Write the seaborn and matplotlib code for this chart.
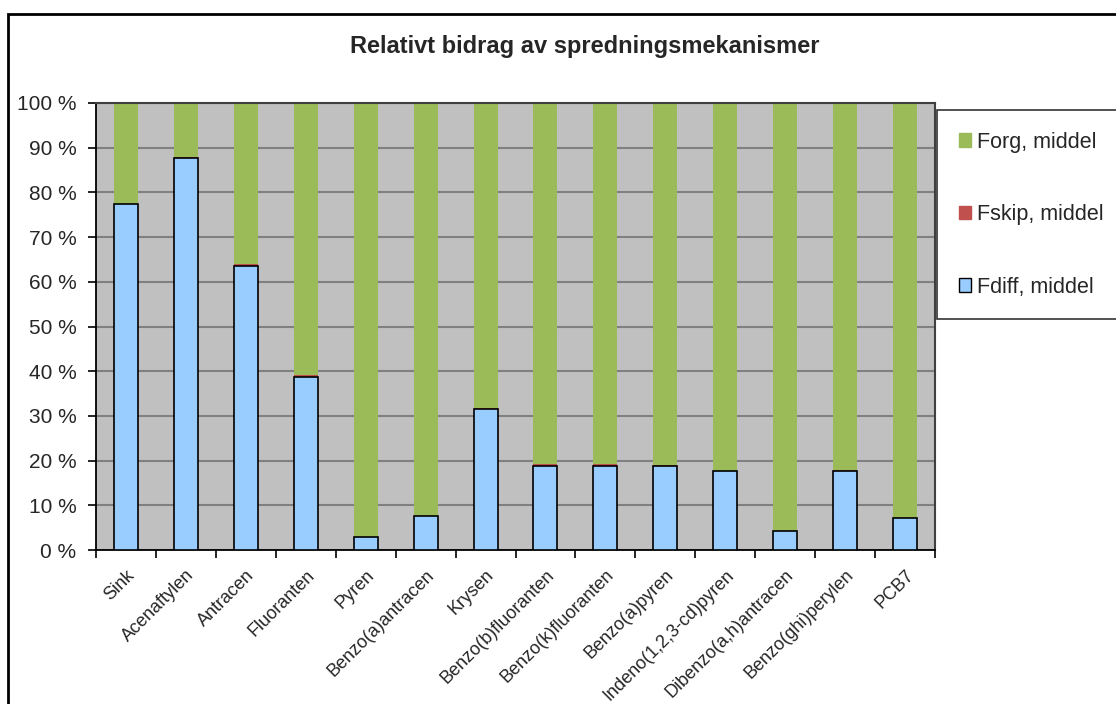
import numpy as np
import pandas as pd
import seaborn as sns
from matplotlib import pyplot as plt
from matplotlib.patches import Rectangle, Patch
from matplotlib.ticker import FuncFormatter

compounds = ["Sink", "Acenaftylen", "Antracen", "Fluoranten", "Pyren",
             "Benzo(a)antracen", "Krysen", "Benzo(b)fluoranten",
             "Benzo(k)fluoranten", "Benzo(a)pyren", "Indeno(1,2,3-cd)pyren",
             "Dibenzo(a,h)antracen", "Benzo(ghi)perylen", "PCB7"]
fdiff = [77.4, 87.8, 63.6, 38.8, 3.0, 7.5, 31.5, 18.9, 18.9, 18.8, 17.7, 4.3, 17.7, 7.1]
fskip = [0.05, 0.2, 0.3, 0.3, 0.0, 0.05, 0.2, 0.4, 0.4, 0.2, 0.05, 0.0, 0.3, 0.0]
forg = [100 - d - s for d, s in zip(fdiff, fskip)]

df = pd.DataFrame({"compound": compounds, "fdiff": fdiff, "fskip": fskip, "forg": forg})
df["top_skip"] = df["fdiff"] + df["fskip"]
df["top_org"] = df["top_skip"] + df["forg"]

c_org, c_skip, c_diff = "#9BBB59", "#C0504D", "#99CCFF"

sns.set_style("white")
plt.rcParams['font.family'] = ['Liberation Sans', 'DejaVu Sans']

fig = plt.figure(figsize=(11.16, 7.04), dpi=100)
ax = fig.add_axes([96 / 1116, 1 - 550 / 704, (935 - 96) / 1116, (550 - 103) / 704])
ax.set_facecolor("#C0C0C0")

# stacked via layered cumulative totals
sns.barplot(data=df, x="compound", y="top_org", color=c_org, width=0.4,
            saturation=1, linewidth=0, ax=ax, zorder=2)
sns.barplot(data=df, x="compound", y="top_skip", color=c_skip, width=0.4,
            saturation=1, linewidth=0, ax=ax, zorder=3)
sns.barplot(data=df, x="compound", y="fdiff", color=c_diff, width=0.4,
            saturation=1, edgecolor="black", linewidth=1.2, ax=ax, zorder=4)

ax.set_ylim(0, 100)
ax.set_xlim(-0.5, len(compounds) - 0.5)
ax.set_yticks(range(0, 101, 10))
ax.yaxis.set_major_formatter(FuncFormatter(lambda v, p: f"{int(v)} %"))
ax.yaxis.grid(True, color="#808080", linewidth=1.5, zorder=0)
ax.set_axisbelow(True)
ax.set_xlabel("")
ax.set_ylabel("")

# ticks between categories, as in the original
ax.set_xticks(np.arange(len(compounds)))
ax.set_xticklabels(compounds, rotation=45, ha="right", rotation_mode="anchor", fontsize=13)
ax.tick_params(axis="x", length=0, pad=12)
ax.set_xticks(np.arange(-0.5, len(compounds)), minor=True)
ax.tick_params(axis="x", which="minor", length=6, direction="out", width=1.2, color="black")
ax.tick_params(axis="y", length=6, direction="out", width=1.2, color="black", labelsize=15, pad=8)
ax.tick_params(left=True, bottom=False)
ax.tick_params(axis="x", which="minor", bottom=True)

for side in ["left", "bottom"]:
    ax.spines[side].set_color("black")
    ax.spines[side].set_linewidth(1.3)
for side in ["top", "right"]:
    ax.spines[side].set_color("#404040")
    ax.spines[side].set_linewidth(1.5)

fig.text(585 / 1116, 1 - 47 / 704, "Relativt bidrag av spredningsmekanismer",
         ha="center", va="center", fontsize=17, fontweight="bold")

handles = [Patch(facecolor=c_org, edgecolor=c_org),
           Patch(facecolor=c_skip, edgecolor=c_skip),
           Patch(facecolor=c_diff, edgecolor="black")]
leg = fig.legend(handles, ["Forg, middel", "Fskip, middel", "Fdiff, middel"],
                 loc="upper left", bbox_to_anchor=(937 / 1116, 1 - 110 / 704),
                 frameon=True, fancybox=False, edgecolor="black", fontsize=15.5,
                 handlelength=0.6, handleheight=0.6, handletextpad=0.25,
                 labelspacing=2.4, borderpad=1.0, borderaxespad=0)
leg.get_frame().set_linewidth(1.2)

fig.patches.append(Rectangle((8 / 1116, -0.1), 1.2, 1 - 14 / 704 + 0.1,
                             transform=fig.transFigure, fill=False,
                             edgecolor="black", linewidth=2))

plt.savefig("out.png", dpi=100)
